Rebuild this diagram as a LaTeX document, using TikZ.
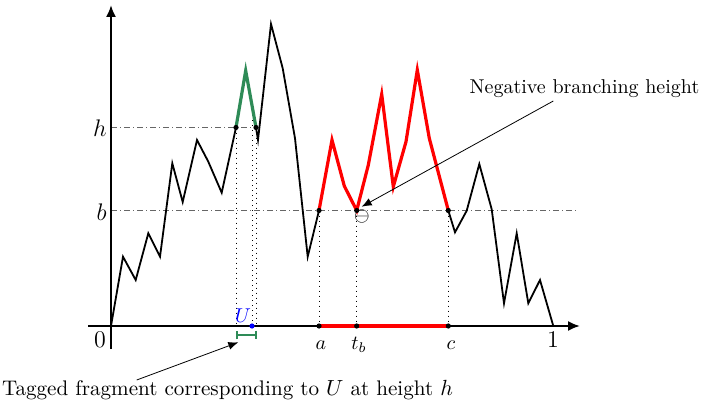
\documentclass[tikz,border=0pt]{standalone}
\usetikzlibrary{arrows.meta,calc}
\definecolor{tagreen}{RGB}{46,139,87}
\begin{document}
\begin{tikzpicture}[x=0.5pt,y=-0.5pt,
  axis/.style={line width=1pt,-{Latex[length=6pt,width=5pt]}},
  guide/.style={gray!80!black,dash pattern=on 3pt off 1.5pt on 0.5pt off 1.5pt,line width=0.4pt},
  drop/.style={dotted,line width=0.5pt},
  walk/.style={line width=0.9pt,line join=miter},
  redwalk/.style={red,line width=1.6pt,line join=miter},
  greenwalk/.style={tagreen,line width=1.6pt,line join=miter},
  pt/.style={circle,fill=black,inner sep=0pt,minimum size=2.6pt},
  note/.style={line width=0.4pt,-{Latex[length=5pt,width=4pt]}},
  lbl/.style={inner sep=0pt,font=\large}]
\useasboundingbox (0,0) rectangle (706,401);

% path points
\coordinate (p0) at (111,326);
\coordinate (p1) at (123,256.7);
\coordinate (p2) at (135.7,280);
\coordinate (p3) at (148.3,233.3);
\coordinate (p4) at (160,256.7);
\coordinate (p5) at (172.3,163.3);
\coordinate (p6) at (182.7,202);
\coordinate (p7) at (197,140);
\coordinate (p8) at (208.3,161.7);
\coordinate (p9) at (221.7,192.7);
\coordinate (hL) at (236,127.5);
\coordinate (g1) at (245.7,70.7);
\coordinate (hR) at (256,127.5);
\coordinate (q1) at (258,140);
\coordinate (q2) at (271,24);
\coordinate (q3) at (282.7,68.3);
\coordinate (q4) at (295,138.3);
\coordinate (q5) at (307.7,256.7);
\coordinate (A) at (319,210.5);
\coordinate (r1) at (332,140);
\coordinate (r2) at (344.3,186);
\coordinate (TB) at (356.7,210.5);
\coordinate (r3) at (368.3,165);
\coordinate (r4) at (381.7,94.3);
\coordinate (r5) at (393.3,186.7);
\coordinate (r6) at (406,141.7);
\coordinate (r7) at (417.3,70);
\coordinate (r8) at (429.3,138.3);
\coordinate (C) at (448.3,210.5);
\coordinate (s1) at (455,232.3);
\coordinate (s2) at (466.7,210.7);
\coordinate (s3) at (479.3,164);
\coordinate (s4) at (491.7,209.3);
\coordinate (s5) at (504,303.3);
\coordinate (s6) at (516.7,233.3);
\coordinate (s7) at (528.3,303.3);
\coordinate (s8) at (540,280);
\coordinate (E) at (553.3,326);
\coordinate (Up) at (252,105.4);

% axis points
\coordinate (O) at (111,326);
\coordinate (yb) at (111,349);
\coordinate (yt) at (111,5);
\coordinate (xl) at (88,326);
\coordinate (xr) at (580,326);
\coordinate (hA) at (111,127.5);
\coordinate (bA) at (111,210.5);
\coordinate (bEnd) at (578,210.5);
\coordinate (hLa) at (236,326);
\coordinate (Ua) at (252,326);
\coordinate (hRa) at (256,326);
\coordinate (Aa) at (319,326);
\coordinate (TBa) at (356.7,326);
\coordinate (Ca) at (448.3,326);

% guides
\draw[guide] (hA) -- (hR);
\draw[guide] (bA) -- (bEnd);
\draw[drop] (hL) -- (hLa);
\draw[drop] (Up) -- (Ua);
\draw[drop] (hR) -- (hRa);
\draw[drop] (A) -- (Aa);
\draw[drop] (TB) -- (TBa);
\draw[drop] (C) -- (Ca);

% axes
\draw[axis] (yb) -- (yt);
\draw[axis] (xl) -- (xr);
\draw[red,line width=1.6pt] (Aa) -- (Ca);

% walk
\draw[walk] (p0) -- (p1) -- (p2) -- (p3) -- (p4) -- (p5) -- (p6) -- (p7) -- (p8) -- (p9) -- (hL);
\draw[walk] (hR) -- (q1) -- (q2) -- (q3) -- (q4) -- (q5) -- (A);
\draw[walk] (C) -- (s1) -- (s2) -- (s3) -- (s4) -- (s5) -- (s6) -- (s7) -- (s8) -- (E);
\draw[greenwalk] (hL) -- (g1) -- (hR);
\draw[redwalk] (A) -- (r1) -- (r2) -- (TB) -- (r3) -- (r4) -- (r5) -- (r6) -- (r7) -- (r8) -- (C);

% dots
\foreach \c in {hL,hR,A,TB,C,Aa,TBa,Ca}
  \node[pt] at (\c) {};
\node[pt,fill=blue] (Udot) at (Ua) {};

% labels
\node[lbl,anchor=base east] (hlab) at (107,136) {$h$};
\node[lbl,anchor=base east] (blab) at (107,220.7) {$b$};
\node[lbl,anchor=base] (zero) at (100,347) {$0$};
\node[lbl,anchor=base] (one) at (553,347) {$1$};
\node[inner sep=0pt,anchor=base] (alab) at (321,349) {$a$};
\node[inner sep=0pt,anchor=base] (tblab) at (359,349) {$t_b$};
\node[inner sep=0pt,anchor=base] (clab) at (451,349) {$c$};
\node[inner sep=0pt,anchor=base,text=blue] (Ulab) at (243,322) {$U$};
\node[inner sep=0pt] (neg) at (362,216.7) {$\ominus$};

% tagged fragment bracket
\coordinate (brL) at (235.7,335);
\coordinate (brR) at (256.7,335);
\draw[tagreen,line width=0.9pt,{Bar[width=4.3pt]}-{Bar[width=4.3pt]}] (brL) -- (brR);

% annotations
\node[inner sep=0pt,anchor=base] (nbh) at (584.5,93.3) {Negative branching height};
\coordinate (nbs) at (553.3,101);
\coordinate (nbt) at (361.7,206.7);
\draw[note] (nbs) -- (nbt);

\node[inner sep=0pt,anchor=base,font=\fontsize{10.56pt}{12pt}\selectfont] (tag) at (227.5,395.5) {Tagged fragment corresponding to $U$ at height $h$};
\coordinate (tgs) at (136.7,380);
\coordinate (tgt) at (238.3,342.3);
\draw[note] (tgs) -- (tgt);
\end{tikzpicture}
\end{document}
